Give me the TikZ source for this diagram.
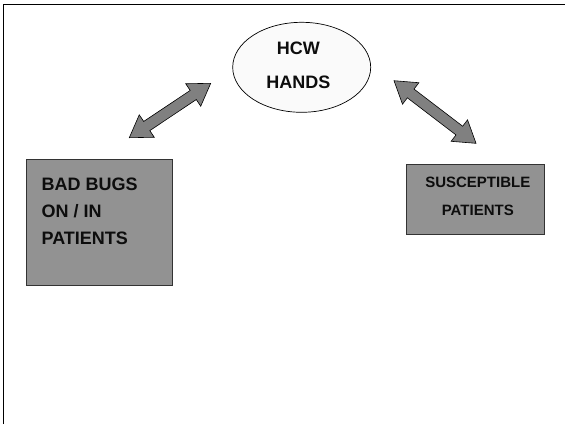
\documentclass[tikz,border=0pt]{standalone}
\usepackage{fontspec}
\setmainfont{Liberation Sans}
\usetikzlibrary{shapes.geometric}
\begin{document}
\begin{tikzpicture}[x=1pt,y=-1pt,
  boxstyle/.style={draw=black!80, line width=0.8pt, fill=boxgray, inner sep=0pt},
  ellstyle/.style={draw=black, line width=0.7pt, fill=ellfill, ellipse, inner sep=0pt},
  bigtxt/.style={font=\fontsize{18}{22}\selectfont\bfseries, text=black!95, inner sep=0pt},
  smalltxt/.style={font=\fontsize{15}{18}\selectfont\bfseries, text=black!95, inner sep=0pt},
  fatarrow/.style={draw=black, line width=0.6pt, fill=arrowgray, line join=miter}
]
\definecolor{boxgray}{RGB}{146,146,146}
\definecolor{arrowgray}{RGB}{128,128,128}
\definecolor{ellfill}{RGB}{250,250,250}
\useasboundingbox (0,0) rectangle (565,424);
\fill[white] (0,0) rectangle (565,424);
% frame
\draw[line width=1.5pt] (3.5,424) -- (3.5,4.5) -- (565,4.5);
% ellipse
\node[ellstyle, minimum width=138pt, minimum height=90pt] (hcw) at (301.7,67.3) {};
\node[bigtxt, anchor=base] (hcw1) at (298.3,54.8) {HCW};
\node[bigtxt, anchor=base] (hcw2) at (298.3,88.2) {HANDS};
% left box
\node[boxstyle, minimum width=146pt, minimum height=126.4pt] (bugs) at (99.7,222.5) {};
\node[bigtxt, anchor=base west] (bugs1) at (41.4,190.1) {BAD BUGS};
\node[bigtxt, anchor=base west] (bugs2) at (41.4,217.1) {ON / IN};
\node[bigtxt, anchor=base west] (bugs3) at (41.4,244.1) {PATIENTS};
% right box
\node[boxstyle, minimum width=138pt, minimum height=70pt] (sus) at (475,199) {};
\node[smalltxt, anchor=base] (sus1) at (477.8,187.1) {SUSCEPTIBLE};
\node[smalltxt, anchor=base] (sus2) at (477.8,215.4) {PATIENTS};
% arrows
\coordinate (la) at (129.3,137.7);
\coordinate (ra) at (394,80.7);
\begin{scope}[shift={(la)}, rotate=33.75]
\draw[fatarrow] (0,0) -- (21,13.5) -- (21,5.5) -- (76.9,5.5) -- (76.9,13.5) -- (97.9,0) -- (76.9,-13.5) -- (76.9,-5.5) -- (21,-5.5) -- (21,-13.5) -- cycle;
\end{scope}
\begin{scope}[shift={(ra)}, rotate=-37.36]
\draw[fatarrow] (0,0) -- (21,13.5) -- (21,5.5) -- (82.2,5.5) -- (82.2,13.5) -- (103.2,0) -- (82.2,-13.5) -- (82.2,-5.5) -- (21,-5.5) -- (21,-13.5) -- cycle;
\end{scope}
\end{tikzpicture}
\end{document}
